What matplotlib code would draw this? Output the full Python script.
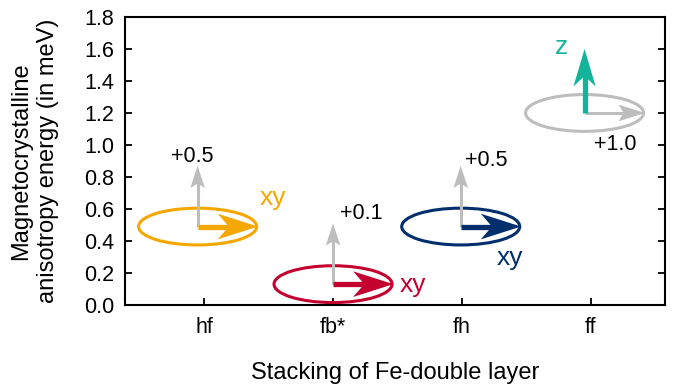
import numpy as np
import matplotlib
matplotlib.use("Agg")
import matplotlib.pyplot as plt
from matplotlib.patches import Ellipse, Polygon

plt.rcParams["font.family"] = ["Liberation Sans", "DejaVu Sans"]

# stacking sequence of the Fe double layer and its magnetocrystalline anisotropy
stackings = ["hf", "fb*", "fh", "ff"]
site_x = [0.95, 2.00, 2.99, 3.95]
mae = [0.49, 0.13, 0.49, 1.20]
easy_axis = ["xy", "xy", "xy", "z"]
hard_gap = ["+0.5", "+0.1", "+0.5", "+1.0"]
easy_colors = ["#F5A700", "#C4002F", "#002F6C", "#14B49B"]

GRAY = "#BDBDBD"
ELL_W, ELL_H = 0.915, 0.23
ARROW_UP = 0.38

# label offsets from each ellipse centre (data units)
gap_offset = [(-0.04, 0.435), (0.22, 0.44), (0.20, 0.416), (0.24, -0.20)]
axis_offset = [(0.585, 0.18), (0.62, -0.005), (0.38, -0.196), (-0.18, 0.41)]


def stealth_arrow(ax, start, end, color, lw, head_len, head_w, notch=0.72, z=3):
    """Shaft plus a swept-back head; sizes in points."""
    k = ax.figure.dpi / 72.0
    p0 = ax.transData.transform(start)
    p1 = ax.transData.transform(end)
    d = (p1 - p0) / np.hypot(*(p1 - p0))
    n = np.array([-d[1], d[0]])
    L, W = head_len * k, head_w * k
    back = p1 - L * d
    pts = np.array([p1, back + W / 2 * n, p1 - notch * L * d, back - W / 2 * n])
    inv = ax.transData.inverted()
    shaft_end = inv.transform(p1 - 0.85 * notch * L * d)
    ax.plot([start[0], shaft_end[0]], [start[1], shaft_end[1]], color=color,
            lw=lw, solid_capstyle="butt", zorder=z)
    ax.add_patch(Polygon(inv.transform(pts), closed=True, facecolor=color,
                         edgecolor="none", zorder=z))


fig = plt.figure(figsize=(6.8, 3.86), dpi=100)
ax = fig.add_axes([0.184, 0.21, 0.794, 0.746])
ax.set_xlim(0.388, 4.574)
ax.set_ylim(0, 1.8)

for i, name in enumerate(stackings):
    cx, cy = site_x[i], mae[i]
    col = easy_colors[i]
    ring = col if easy_axis[i] == "xy" else GRAY
    ax.add_patch(Ellipse((cx, cy), ELL_W, ELL_H, fill=False, edgecolor=ring,
                         lw=2.2, zorder=2))
    tip_x = cx + ELL_W / 2 + 0.01
    if easy_axis[i] == "xy":
        stealth_arrow(ax, (cx, cy), (cx, cy + ARROW_UP), GRAY, 2.2, 16, 10.5, notch=0.8)
        stealth_arrow(ax, (cx, cy), (tip_x, cy), col, 3.8, 29, 18.5, z=4)
    else:
        stealth_arrow(ax, (cx, cy), (tip_x, cy), GRAY, 2.2, 19, 12, notch=0.8)
        stealth_arrow(ax, (cx, cy), (cx, cy + 0.40), col, 3.8, 27, 16, z=4)
    gx, gy = gap_offset[i]
    ax.text(cx + gx, cy + gy, hard_gap[i], fontsize=15.5, ha="center",
            va="center", color="black")
    ex, ey = axis_offset[i]
    ax.text(cx + ex, cy + ey, easy_axis[i], fontsize=19, ha="center",
            va="center", color=col)

ax.set_xticks(range(1, len(stackings) + 1))
ax.set_xticklabels(stackings)
ax.set_yticks(np.arange(0, 1.81, 0.2))
ax.set_yticklabels([f"{v:.1f}" for v in np.arange(0, 1.81, 0.2)])
ax.tick_params(axis="x", direction="in", length=5, width=1.3, labelsize=15.5,
               pad=9, top=False)
ax.tick_params(axis="y", direction="in", length=5, width=1.3, labelsize=15.5,
               pad=8, right=True)
for sp in ax.spines.values():
    sp.set_linewidth(1.5)

ax.set_xlabel("Stacking of Fe-double layer", fontsize=17, labelpad=17)
ax.set_ylabel("Magnetocrystalline\nanisotropy energy (in meV)", fontsize=17,
              labelpad=18, linespacing=1.25)

fig.savefig("out.png", dpi=100)
